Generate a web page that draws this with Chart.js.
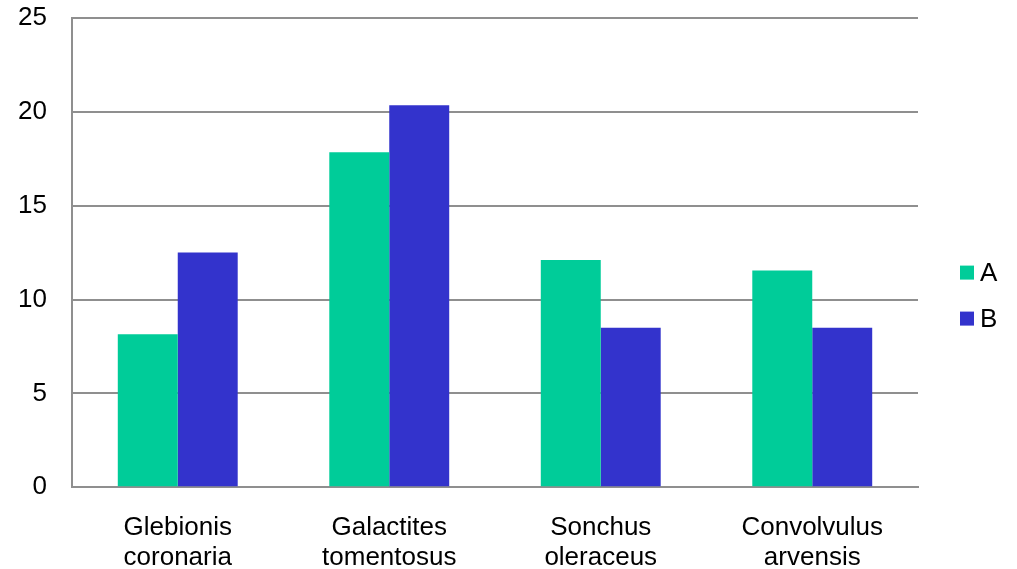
<!DOCTYPE html>
<html>
<head>
<meta charset="utf-8">
<script src="https://cdn.jsdelivr.net/npm/chart.js@4/dist/chart.umd.min.js"></script>
<style>
  html, body { margin: 0; padding: 0; background: #fff; }
  #wrap { width: 1017px; height: 569px; }
</style>
</head>
<body>
<div id="wrap"><canvas id="speciesChart" width="1017" height="569"></canvas></div>
<script>
// Species on the x axis, two-line labels
const species = [
    ['Glebionis', 'coronaria'],
    ['Galactites', 'tomentosus'],
    ['Sonchus', 'oleraceus'],
    ['Convolvulus', 'arvensis']
];
const seriesA = [8.15, 17.85, 12.1, 11.55];
const seriesB = [12.5, 20.35, 8.5, 8.5];
const yTicks = [0, 5, 10, 15, 20, 25];

const FONT = "'Liberation Sans', Arial, sans-serif";
const GRID = '#8f8f8f';

// simple legend to the right of the plot, tight box/label spacing
const sideLegend = {
    id: 'sideLegend',
    afterDraw(chart) {
        const c = chart.ctx;
        const area = chart.chartArea;
        const x = area.right + 42;
        const midY = (area.top + area.bottom) / 2;
        const rowGap = 46;
        const sets = chart.data.datasets;
        const y0 = midY + 43 - (sets.length - 1) * rowGap / 2;
        c.save();
        c.font = '26px ' + FONT;
        c.textBaseline = 'middle';
        c.textAlign = 'left';
        sets.forEach((ds, i) => {
            const y = y0 + i * rowGap;
            c.fillStyle = ds.backgroundColor;
            c.fillRect(x, y - 7, 14, 14);
            c.fillStyle = '#000';
            c.fillText(ds.label, x + 20, y + 1);
        });
        c.restore();
    }
};

document.addEventListener('DOMContentLoaded', function() {
    const ctx = document.getElementById('speciesChart').getContext('2d');

    new Chart(ctx, {
        type: 'bar',
        data: {
            labels: species,
            datasets: [
                {
                    label: 'A',
                    data: seriesA,
                    backgroundColor: '#00CC99',
                    borderWidth: 0
                },
                {
                    label: 'B',
                    data: seriesB,
                    backgroundColor: '#3333CC',
                    borderWidth: 0
                }
            ]
        },
        options: {
            responsive: false,
            animation: false,
            layout: {
                padding: { left: 18, top: 18, right: 99, bottom: -22 }
            },
            datasets: {
                bar: {
                    barPercentage: 1,
                    categoryPercentage: 0.567
                }
            },
            plugins: {
                legend: { display: false },
                tooltip: { enabled: false }
            },
            scales: {
                x: {
                    grid: { display: false },
                    border: { display: true, color: GRID, width: 2 },
                    ticks: {
                        color: '#000',
                        padding: 18,
                        font: { family: FONT, size: 26, lineHeight: 1.15 }
                    }
                },
                y: {
                    min: 0,
                    max: 25,
                    afterBuildTicks(axis) {
                        axis.ticks = yTicks.map(v => ({ value: v }));
                    },
                    afterFit(axis) {
                        axis.width = 54;
                        axis.paddingTop = 0;
                        axis.paddingBottom = 0;
                    },
                    grid: { color: GRID, lineWidth: 2, drawTicks: false },
                    border: { display: true, color: GRID, width: 2 },
                    ticks: {
                        color: '#000',
                        padding: 25,
                        font: { family: FONT, size: 26 }
                    }
                }
            }
        },
        plugins: [sideLegend]
    });
});
</script>
</body>
</html>
